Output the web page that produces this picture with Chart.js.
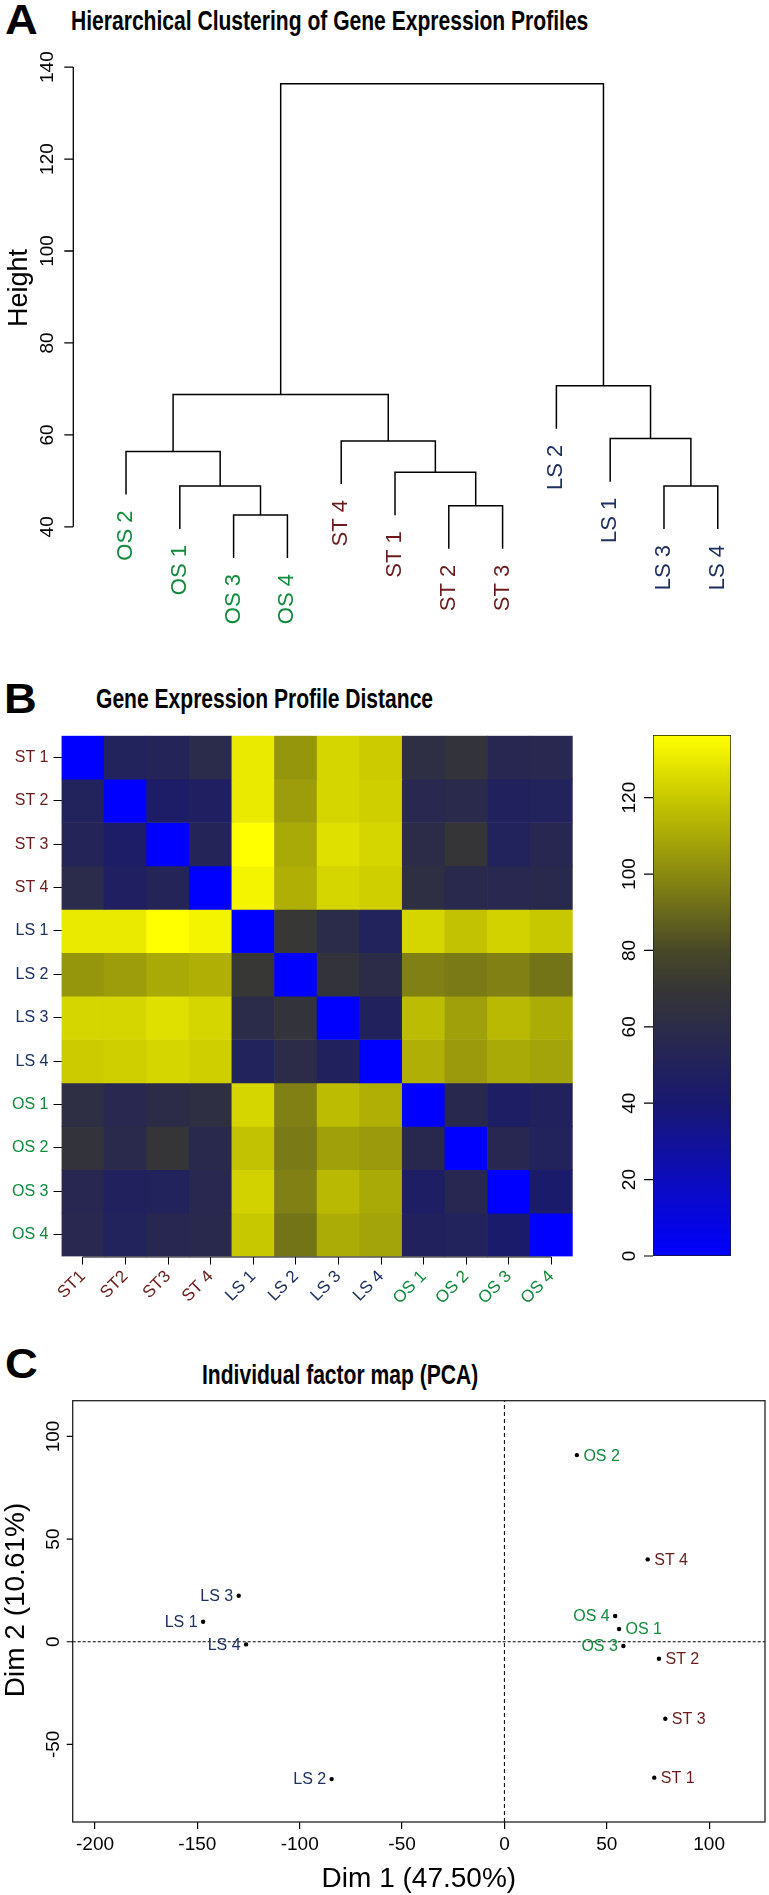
<!DOCTYPE html>
<html><head><meta charset="utf-8">
<script src="https://cdn.jsdelivr.net/npm/chart.js@4.4.1/dist/chart.umd.min.js"></script>
<style>
html,body{margin:0;padding:0;background:#fff;}
body{width:769px;height:1895px;position:relative;overflow:hidden;font-family:"Liberation Sans",Arial,Helvetica,sans-serif;}
canvas{position:absolute;}
.t{position:absolute;white-space:nowrap;line-height:1;color:#000;font-weight:bold;}
.ttl{font-size:27px;transform:scaleX(0.78);transform-origin:0 0;}
.let{font-size:42px;transform:scaleX(1.08);transform-origin:0 0;}
</style></head><body>
<div class="t let" style="left:5px;top:-1px;">A</div>
<div class="t ttl" style="left:70.5px;top:8.2px;">Hierarchical Clustering of Gene Expression Profiles</div>
<div class="t let" style="left:4px;top:678px;">B</div>
<div class="t ttl" style="left:95.5px;top:686.2px;">Gene Expression Profile Distance</div>
<div class="t let" style="left:5px;top:1343px;">C</div>
<div class="t ttl" style="left:202px;top:1361.7px;">Individual factor map (PCA)</div>

<canvas id="cA" width="780" height="640" style="left:0;top:0;width:780px;height:640px"></canvas>
<canvas id="cB" width="600" height="600" style="left:0;top:720px;width:600px;height:600px"></canvas>
<canvas id="cK" width="169" height="600" style="left:600px;top:720px;width:169px;height:600px"></canvas>
<canvas id="cC" width="769" height="565" style="left:0;top:1330px;width:769px;height:565px"></canvas>

<script>
const FONT = '"Liberation Sans", Arial, Helvetica, sans-serif';
Chart.defaults.font.family = FONT;
Chart.defaults.color = '#000';
Chart.defaults.animation = false;

const groupColor = { ST: '#6b1b1b', LS: '#1d2f63', OS: '#108a3b' };

// ================= Panel A : dendrogram =================
const leafLabels = ['OS 2','OS 1','OS 3','OS 4','ST 4','ST 1','ST 2','ST 3','LS 2','LS 1','LS 3','LS 4'];
const leafGroups = ['OS','OS','OS','OS','ST','ST','ST','ST','LS','LS','LS','LS'];
// negative = leaf (position in plot order, 1-based), positive = earlier merge (1-based)
const mergeLeft   = [-3, -7, -2, -11, -6, -1, -5, -10, 6, -9, 9];
const mergeRight  = [-4, -8,  1, -12,  2,  3,  5,   4, 7,  8, 10];
const mergeHeight = [42.6, 44.6, 48.9, 48.9, 51.9, 56.4, 58.7, 59.2, 68.8, 70.7, 136.4];
const heightTicks = [40, 60, 80, 100, 120, 140];

// ================= Panel B : distance heatmap =================
const heatColLabels = ['ST1','ST2','ST3','ST 4','LS 1','LS 2','LS 3','LS 4','OS 1','OS 2','OS 3','OS 4'];
const heatRowLabels = ['ST 1','ST 2','ST 3','ST 4','LS 1','LS 2','LS 3','LS 4','OS 1','OS 2','OS 3','OS 4'];
const sampleGroups  = ['ST','ST','ST','ST','LS','LS','LS','LS','OS','OS','OS','OS'];
const distST1 = [0, 50, 51.9, 58.7, 130, 104, 124, 121, 62, 67, 55, 56];
const distST2 = [50, 0, 44.6, 47, 130, 106, 124, 122, 56, 58, 49, 50];
const distST3 = [51.9, 44.6, 0, 52, 136.4, 110, 127, 124, 60, 68.8, 50, 55];
const distST4 = [58.7, 47, 52, 0, 133, 112, 124, 122, 63, 57, 56, 57];
const distLS1 = [130, 130, 136.4, 133, 0, 70.7, 59.2, 50, 124, 118, 123, 120];
const distLS2 = [104, 106, 110, 112, 70.7, 0, 67, 60, 97, 95, 97, 93];
const distLS3 = [124, 124, 127, 124, 59.2, 67, 0, 48.9, 116, 107, 115, 111];
const distLS4 = [121, 122, 124, 122, 50, 60, 48.9, 0, 112, 105, 110, 108];
const distOS1 = [62, 56, 60, 63, 124, 97, 116, 112, 0, 56.4, 46, 48.9];
const distOS2 = [67, 58, 68.8, 57, 118, 95, 107, 105, 56.4, 0, 55, 50];
const distOS3 = [55, 49, 50, 56, 123, 97, 115, 110, 46, 55, 0, 42.6];
const distOS4 = [56, 50, 55, 57, 120, 93, 111, 108, 48.9, 50, 42.6, 0];
const distanceRows = [distST1, distST2, distST3, distST4, distLS1, distLS2, distLS3, distLS4, distOS1, distOS2, distOS3, distOS4];
const keyTicks = [0, 20, 40, 60, 80, 100, 120];
const colorStopValues = [0, 20, 40, 60, 70, 80, 100, 120, 136.4];
const colorStopRGB = [[0,0,255],[12,12,190],[24,24,112],[44,44,72],[54,54,54],[72,72,40],[138,138,16],[200,200,0],[255,255,0]];

// ================= Panel C : PCA =================
const pcaLabels = ['LS 1','LS 2','LS 3','LS 4','OS 1','OS 2','OS 3','OS 4','ST 1','ST 2','ST 3','ST 4'];
const pcaGroups = ['LS','LS','LS','LS','OS','OS','OS','OS','ST','ST','ST','ST'];
const dim1 = [-147.2, -84.4, -129.8, -126.2, 56.0, 35.4, 58.1, 54.1, 73.2, 75.5, 78.6, 70.0];
const dim2 = [9.7, -66.9, 22.4, -1.3, 6.2, 90.9, -2.1, 12.5, -66.2, -8.3, -37.5, 40.1];
const labelSide = ['left','left','left','left','right','right','left','left','right','right','right','right'];
const dim1Ticks = [-200, -150, -100, -50, 0, 50, 100];
const dim2Ticks = [-50, 0, 50, 100];
const dim1Limits = [-210.9, 127.3];
const dim2Limits = [-87.8, 117.4];

// ---------- helpers ----------
function rgbStr(c){ return 'rgb(' + c.map(v => Math.round(v)).join(',') + ')'; }
function distColor(v){
  if (v <= colorStopValues[0]) return rgbStr(colorStopRGB[0]);
  for (let k = 1; k < colorStopValues.length; k++){
    if (v <= colorStopValues[k]){
      const t = (v - colorStopValues[k-1]) / (colorStopValues[k] - colorStopValues[k-1]);
      const a = colorStopRGB[k-1], b = colorStopRGB[k];
      return rgbStr(a.map((x, i) => x + (b[i] - x) * t));
    }
  }
  return rgbStr(colorStopRGB[colorStopRGB.length - 1]);
}
function rotText(ctx, txt, x, y, align){
  ctx.save(); ctx.translate(x, y); ctx.rotate(-Math.PI/2);
  ctx.textAlign = align || 'center'; ctx.textBaseline = 'middle';
  ctx.fillText(txt, 0, 0); ctx.restore();
}

// ---------- Panel A build ----------
const nLeaf = leafLabels.length;
const hMax = Math.max(...mergeHeight), hMin = Math.min(...mergeHeight);
const hang = 0.1 * (hMax - hMin);
const nodeX = [];
const leafEnd = new Array(nLeaf);
const segments = [];
function childPos(c, h){
  if (c < 0){ const i = -c - 1; leafEnd[i] = h - hang; return { x: i + 1, y: h - hang }; }
  return { x: nodeX[c - 1], y: mergeHeight[c - 1] };
}
mergeHeight.forEach((h, k) => {
  const a = childPos(mergeLeft[k], h), b = childPos(mergeRight[k], h);
  nodeX[k] = (a.x + b.x) / 2;
  segments.push([{x:a.x, y:a.y}, {x:a.x, y:h}, {x:b.x, y:h}, {x:b.x, y:b.y}]);
});
const yLow = Math.min(...leafEnd);
const yRange = hMax - yLow;

const dendroPlugin = {
  id: 'dendroDecor',
  afterDraw(chart){
    const { ctx, chartArea: ca, scales: { x, y } } = chart;
    ctx.save();
    ctx.strokeStyle = '#000'; ctx.lineWidth = 1.3;
    ctx.beginPath();
    ctx.moveTo(ca.left, y.getPixelForValue(heightTicks[0]));
    ctx.lineTo(ca.left, y.getPixelForValue(heightTicks[heightTicks.length - 1]));
    heightTicks.forEach(v => { const p = y.getPixelForValue(v); ctx.moveTo(ca.left, p); ctx.lineTo(ca.left - 9, p); });
    ctx.stroke();
    ctx.fillStyle = '#000';
    ctx.font = '19px ' + FONT;
    heightTicks.forEach(v => rotText(ctx, String(v), ca.left - 26, y.getPixelForValue(v)));
    ctx.font = '27px ' + FONT;
    rotText(ctx, 'Height', 20, 288);
    ctx.font = '22px ' + FONT;
    leafLabels.forEach((lab, i) => {
      ctx.fillStyle = groupColor[leafGroups[i]];
      rotText(ctx, lab, x.getPixelForValue(i + 1), y.getPixelForValue(leafEnd[i]) + 16, 'right');
    });
    ctx.restore();
  }
};

// dendrogram-style x range: leaves at 1..n, limits (0.5, n+0.5) widened by 4%
const xSpan = nLeaf;
new Chart(document.getElementById('cA'), {
  type: 'scatter',
  data: { datasets: segments.map(s => ({ data: s, showLine: true, borderColor: '#000', borderWidth: 1.5, pointRadius: 0, tension: 0, fill: false })) },
  options: {
    responsive: false, animation: false,
    layout: { padding: { left: 73.3, right: 9.5, top: 64.7, bottom: 63 } },
    plugins: { legend: { display: false }, tooltip: { enabled: false } },
    scales: {
      x: { type: 'linear', min: 0.5 - 0.04 * xSpan, max: nLeaf + 0.5 + 0.04 * xSpan, display: false },
      y: { type: 'linear', min: yLow - 0.04 * yRange, max: hMax + 0.04 * yRange, display: false }
    }
  },
  plugins: [dendroPlugin]
});

// ---------- Panel B build ----------
const heatDatasets = distanceRows.map((row, i) => ({
  label: heatRowLabels[i],
  data: row.map((d, j) => ({ x: heatColLabels[j], y: [i, i + 1], d: d })),
  backgroundColor: c => distColor(c.raw ? c.raw.d : 0),
  borderWidth: 0, barPercentage: 1, categoryPercentage: 1, grouped: false
}));
const heatAxisPlugin = {
  id: 'heatAxis',
  afterDraw(chart){
    const { ctx, chartArea: ca, scales: { x } } = chart;
    ctx.save(); ctx.strokeStyle = '#000'; ctx.lineWidth = 1.2;
    ctx.beginPath();
    ctx.moveTo(x.getPixelForValue(0), ca.bottom + 0.5);
    ctx.lineTo(x.getPixelForValue(heatColLabels.length - 1), ca.bottom + 0.5);
    ctx.stroke(); ctx.restore();
  }
};
new Chart(document.getElementById('cB'), {
  type: 'bar',
  data: { labels: heatColLabels, datasets: heatDatasets },
  options: {
    responsive: false, animation: false,
    layout: { padding: { left: 0, right: 27.3, top: 15.7, bottom: 0 } },
    plugins: { legend: { display: false }, tooltip: { enabled: false } },
    scales: {
      x: { type: 'category', offset: true,
           grid: { display: true, drawOnChartArea: false, drawTicks: true, tickLength: 8, color: '#000', lineWidth: 1, offset: false },
           border: { display: false },
           ticks: { minRotation: 45, maxRotation: 45, autoSkip: false, padding: 2, font: { size: 17 },
                    color: c => groupColor[sampleGroups[c.index]] },
           afterFit(s){ s.height = 63.5; } },
      y: { type: 'linear', min: 0, max: heatRowLabels.length, reverse: true, display: false },
      y2: { type: 'category', labels: heatRowLabels, position: 'left', offset: true,
            grid: { display: true, drawOnChartArea: false, drawTicks: true, tickLength: 8, color: '#000', lineWidth: 1, offset: false },
            border: { display: false },
            ticks: { autoSkip: false, padding: 5, font: { size: 16 }, color: c => groupColor[sampleGroups[c.index]] },
            afterFit(s){ s.width = 61.5; } }
    }
  },
  plugins: [heatAxisPlugin]
});

// colour key
const colorMax = Math.max(...distanceRows.map(r => Math.max(...r)));
const keyAxisPlugin = {
  id: 'keyAxis',
  afterDraw(chart){
    const { ctx, chartArea: ca, scales: { y } } = chart;
    ctx.save(); ctx.strokeStyle = '#000'; ctx.lineWidth = 1.2; ctx.beginPath();
    keyTicks.forEach(v => { const p = y.getPixelForValue(v); ctx.moveTo(ca.left, p); ctx.lineTo(ca.left - 9, p); });
    ctx.stroke();
    ctx.fillStyle = '#000'; ctx.font = '19px ' + FONT;
    keyTicks.forEach(v => rotText(ctx, String(v), ca.left - 23, y.getPixelForValue(v)));
    ctx.restore();
  }
};
new Chart(document.getElementById('cK'), {
  type: 'bar',
  data: { labels: ['key'], datasets: [{
    data: [[keyTicks[0], colorMax]],
    backgroundColor: c => {
      const ch = c.chart; if (!ch.chartArea) return '#777';
      const y = ch.scales.y;
      const g = ch.ctx.createLinearGradient(0, y.getPixelForValue(0), 0, y.getPixelForValue(colorMax));
      colorStopValues.forEach((v, k) => g.addColorStop(Math.min(1, v / colorMax), rgbStr(colorStopRGB[k])));
      return g;
    },
    borderColor: '#1a1a1a', borderWidth: 1, borderSkipped: false, barPercentage: 1, categoryPercentage: 1
  }] },
  options: {
    responsive: false, animation: false,
    layout: { padding: { left: 53, right: 38, top: 15, bottom: 64 } },
    plugins: { legend: { display: false }, tooltip: { enabled: false } },
    scales: { x: { display: false }, y: { type: 'linear', min: 0, max: colorMax, display: false } }
  },
  plugins: [keyAxisPlugin]
});

// ---------- Panel C build ----------
const pcaPlugin = {
  id: 'pcaDecor',
  afterDraw(chart){
    const { ctx, chartArea: ca, scales: { x, y } } = chart;
    ctx.save();
    ctx.strokeStyle = '#222'; ctx.lineWidth = 1.3;
    ctx.strokeRect(ca.left, ca.top, ca.right - ca.left, ca.bottom - ca.top);
    ctx.beginPath(); ctx.lineWidth = 1.2; ctx.strokeStyle = '#000';
    dim2Ticks.forEach(v => { const p = y.getPixelForValue(v); ctx.moveTo(ca.left, p); ctx.lineTo(ca.left - 6, p); });
    ctx.stroke();
    ctx.fillStyle = '#000'; ctx.font = '19px ' + FONT;
    dim2Ticks.forEach(v => rotText(ctx, String(v), ca.left - 19.4, y.getPixelForValue(v)));
    ctx.font = '28px ' + FONT;
    rotText(ctx, 'Dim 2 (10.61%)', 16, 270);
    ctx.textAlign = 'center'; ctx.textBaseline = 'middle';
    ctx.fillText('Dim 1 (47.50%)', (ca.left + ca.right) / 2, 549);
    // point labels
    ctx.font = '16px ' + FONT; ctx.textBaseline = 'middle';
    const meta = chart.getDatasetMeta(0);
    meta.data.forEach((pt, i) => {
      ctx.fillStyle = groupColor[pcaGroups[i]];
      if (labelSide[i] === 'left'){ ctx.textAlign = 'right'; ctx.fillText(pcaLabels[i], pt.x - 5.5, pt.y + 1); }
      else { ctx.textAlign = 'left'; ctx.fillText(pcaLabels[i], pt.x + 6.5, pt.y + 1); }
    });
    ctx.restore();
  }
};
new Chart(document.getElementById('cC'), {
  type: 'scatter',
  data: { datasets: [
    { data: dim1.map((v, i) => ({ x: v, y: dim2[i] })), pointRadius: 2.2, pointBackgroundColor: '#000', pointBorderWidth: 0, showLine: false },
    { data: [{ x: dim1Limits[0], y: 0 }, { x: dim1Limits[1], y: 0 }], showLine: true, borderColor: '#000', borderWidth: 1.1, borderDash: [3, 2], pointRadius: 0 },
    { data: [{ x: 0, y: dim2Limits[0] }, { x: 0, y: dim2Limits[1] }], showLine: true, borderColor: '#000', borderWidth: 1, borderDash: [4, 3], pointRadius: 0 }
  ] },
  options: {
    responsive: false, animation: false,
    layout: { padding: { left: 72.7, right: 1.5, top: 70.7, bottom: 0 } },
    plugins: { legend: { display: false }, tooltip: { enabled: false } },
    scales: {
      x: { type: 'linear', min: dim1Limits[0], max: dim1Limits[1], position: 'bottom',
           afterBuildTicks(s){ s.ticks = dim1Ticks.map(v => ({ value: v })); },
           grid: { display: true, drawOnChartArea: false, drawTicks: true, tickLength: 7, color: '#000', lineWidth: 1.2 },
           border: { display: false },
           ticks: { font: { size: 19 }, color: '#000', padding: 4, maxRotation: 0, callback: v => String(v) },
           afterFit(s){ s.height = 73; } },
      y: { type: 'linear', min: dim2Limits[0], max: dim2Limits[1], display: false }
    }
  },
  plugins: [pcaPlugin]
});
</script>
</body></html>
